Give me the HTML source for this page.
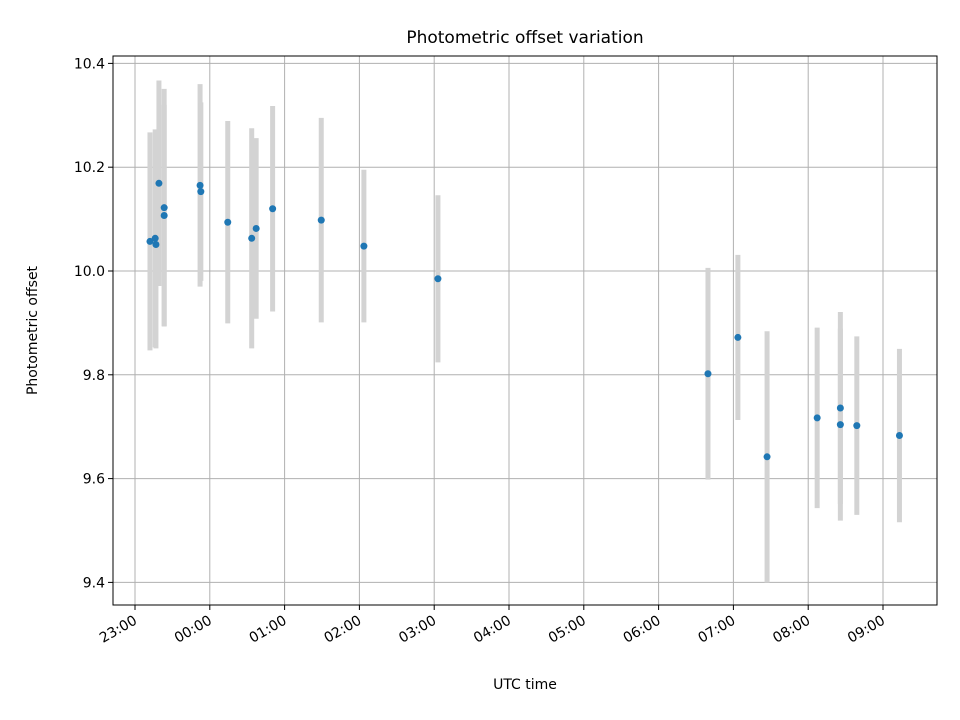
<!DOCTYPE html>
<html><head><meta charset="utf-8"><style>
body{margin:0;background:#fff;}
svg{display:block;font-family:"DejaVu Sans","Liberation Sans",sans-serif;}
</style></head><body>
<svg id="chart" width="960" height="720" xmlns="http://www.w3.org/2000/svg">
<rect width="960" height="720" fill="#fff"/>
<g id="grid"></g><g id="errs"></g><g id="pts"></g><g id="axes"></g>
</svg>
<script>
// hours since 23:00
const times=[0.20,0.27,0.28,0.32,0.39,0.39,0.87,0.88,1.24,1.56,1.62,1.84,2.49,3.06,4.05,7.66,8.06,8.45,9.12,9.43,9.43,9.65,10.22];
const values=[10.057,10.063,10.051,10.169,10.122,10.107,10.165,10.153,10.094,10.063,10.082,10.120,10.098,10.048,9.985,9.802,9.872,9.642,9.717,9.736,9.704,9.702,9.683];
const errors=[0.210,0.210,0.200,0.198,0.229,0.213,0.195,0.172,0.195,0.212,0.174,0.198,0.197,0.147,0.161,0.204,0.159,0.242,0.174,0.185,0.185,0.172,0.167];
const yTicks=[9.4,9.6,9.8,10.0,10.2,10.4];
const xTickLabels=["23:00","00:00","01:00","02:00","03:00","04:00","05:00","06:00","07:00","08:00","09:00"];
const L=113,R=937,T=56,B=605;
const X=h=>135+h*74.8;
const Y=v=>271-(v-10.0)*519;
const NS="http://www.w3.org/2000/svg";
function mk(tag,attrs,parent){const e=document.createElementNS(NS,tag);for(const k in attrs)e.setAttribute(k,attrs[k]);parent.appendChild(e);return e;}
const grid=document.getElementById('grid'),errs=document.getElementById('errs'),pts=document.getElementById('pts'),axes=document.getElementById('axes');
xTickLabels.forEach((lab,i)=>{const x=X(i);
 const g=mk('line',{x1:x,x2:x,y1:T,y2:B,stroke:'#b0b0b0','stroke-width':1},grid);
 
 
 const tk=mk('line',{x1:x,x2:x,y1:B,y2:B+5,stroke:'#000','stroke-width':1},axes);
 
 
 const t=mk('text',{x:x+3,y:B+18,'font-size':14,'text-anchor':'end',transform:`rotate(-30 ${x+3} ${B+18})`},axes);
 t.textContent=lab;
 
 
});
yTicks.forEach(v=>{const y=Y(v);
 const g=mk('line',{x1:L,x2:R,y1:y,y2:y,stroke:'#b0b0b0','stroke-width':1},grid);
 
 
 const tk=mk('line',{x1:L-5,x2:L,y1:y,y2:y,stroke:'#000','stroke-width':1},axes);
 
 
 const t=mk('text',{x:L-8,y:y+5,'font-size':14,'text-anchor':'end'},axes);
 t.textContent=v.toFixed(1);
 
 
});
times.forEach((h,i)=>{const x=X(h);
 const e=mk('line',{x1:x,x2:x,y1:Y(values[i]+errors[i]),y2:Y(values[i]-errors[i]),stroke:'#d3d3d3','stroke-width':5},errs);
 
 
 const c=mk('circle',{cx:x,cy:Y(values[i]),r:3.5,fill:'#1f77b4'},pts);
 
 
});
const fr=mk('rect',{x:L,y:T,width:R-L,height:B-T,fill:'none',stroke:'#000','stroke-width':1},axes);


const ti=mk('text',{x:(L+R)/2,y:43,'font-size':17,'text-anchor':'middle'},axes);
ti.textContent='Photometric offset variation';


const xl=mk('text',{x:(L+R)/2,y:689,'font-size':14,'text-anchor':'middle'},axes);
xl.textContent='UTC time';


const yl=mk('text',{x:37,y:(T+B)/2,'font-size':14,'text-anchor':'middle',transform:`rotate(-90 37 ${(T+B)/2})`},axes);
yl.textContent='Photometric offset';


</script>
</body></html>
